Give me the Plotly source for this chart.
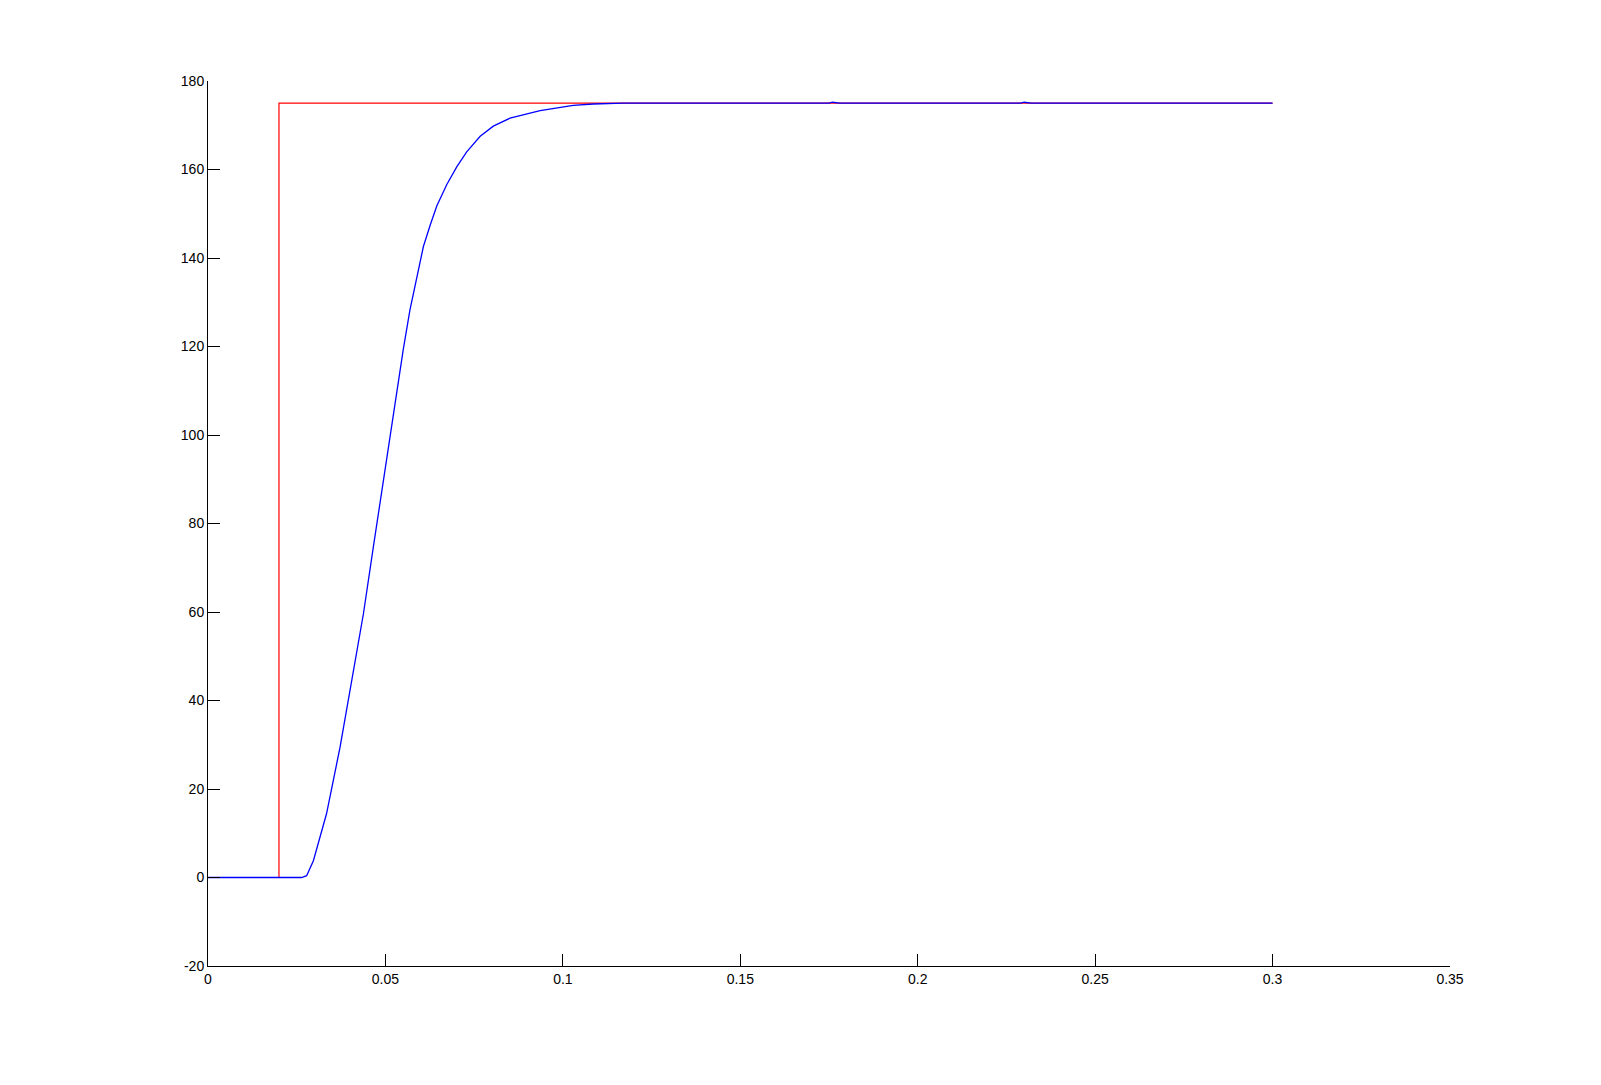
import plotly.graph_objects as go

# Reference (step) signal
ref_t = [0.0, 0.02, 0.02, 0.3]
ref_y = [0.0, 0.0, 175.0, 175.0]

# Response signal
resp_t = [0.0, 0.0264, 0.0278, 0.0297, 0.0334, 0.0372, 0.0405, 0.0438, 0.0466,
          0.0494, 0.0520, 0.0535, 0.0550, 0.0569, 0.0588, 0.0607, 0.0626,
          0.0645, 0.0673, 0.0701, 0.0729, 0.0767, 0.0804, 0.0851, 0.0936,
          0.1029, 0.1086, 0.1169, 0.175, 0.176, 0.178, 0.229, 0.230, 0.232, 0.3]
resp_y = [0.0, 0.0, 0.4, 3.8, 14.4, 29.4, 44.5, 59.6, 74.7,
          89.8, 104.0, 111.0, 119.2, 128.2, 135.8, 142.6, 147.4,
          151.8, 156.6, 160.6, 164.0, 167.5, 169.8, 171.6, 173.3,
          174.5, 174.8, 175.0, 175.0, 175.2, 175.0, 175.0, 175.2, 175.0, 175.0]

x_ticks = [0, 0.05, 0.1, 0.15, 0.2, 0.25, 0.3, 0.35]
x_tick_text = ["0", "0.05", "0.1", "0.15", "0.2", "0.25", "0.3", "0.35"]
y_ticks = [-20, 0, 20, 40, 60, 80, 100, 120, 140, 160, 180]
y_tick_text = ["-20", "0", "20", "40", "60", "80", "100", "120", "140", "160", "180"]

fig = go.Figure()
fig.add_trace(go.Scatter(x=ref_t, y=ref_y, mode="lines",
                         line=dict(color="#ff0000", width=1.2), showlegend=False))
fig.add_trace(go.Scatter(x=resp_t, y=resp_y, mode="lines",
                         line=dict(color="#0000ff", width=1.3),
                         showlegend=False))

axis_common = dict(showgrid=False, zeroline=False, showline=True, linecolor="black",
                   linewidth=1, ticks="inside", ticklen=12, tickcolor="black",
                   tickwidth=1, mirror=False,
                   tickfont=dict(family="Liberation Sans, Arial", size=14, color="black"))

fig.update_xaxes(range=[0, 0.35], tickvals=x_ticks, ticktext=x_tick_text, **axis_common)
fig.update_yaxes(range=[-20, 180], tickvals=y_ticks, ticktext=y_tick_text, **axis_common)

fig.update_layout(width=1585, height=1069,
                  margin=dict(l=200, r=143, t=73, b=111),
                  plot_bgcolor="white", paper_bgcolor="white")

fig.write_html("out.html")
